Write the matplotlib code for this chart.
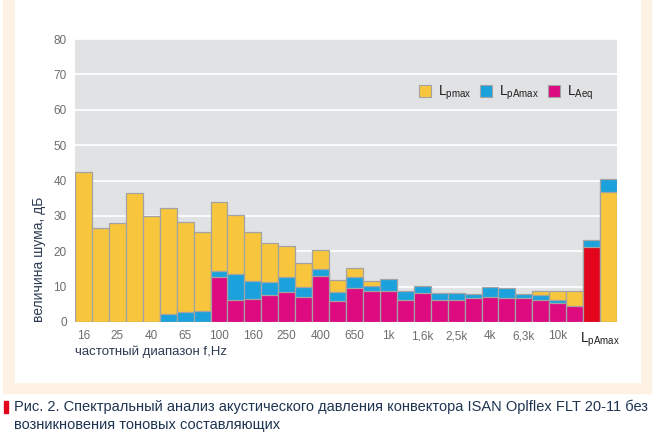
import matplotlib
matplotlib.use('Agg')
import matplotlib.pyplot as plt
from matplotlib.patches import Rectangle
import numpy as np

plt.rcParams['font.family'] = ['Liberation Sans Narrow', 'Liberation Sans', 'DejaVu Sans']
plt.rcParams['mathtext.fontset'] = 'custom'
plt.rcParams['mathtext.rm'] = 'Liberation Sans'

nan = np.nan

# 1/3-octave bands 16 Hz .. 12.5 kHz, then two total bars
bands = ['16', '20', '25', '31.5', '40', '50', '63', '80', '100', '125', '160', '200',
         '250', '315', '400', '500', '630', '800', '1k', '1.25k', '1.6k', '2k', '2.5k',
         '3.15k', '4k', '5k', '6.3k', '8k', '10k', '12.5k', 'LAeq', 'LpAmax']

lpmax = [42.5, 26.6, 27.9, 36.4, 30.0, 32.3, 28.4, 25.4, 33.8, 30.3, 25.4, 22.4,
         21.5, 16.7, 20.3, 12.0, 15.4, 11.7, nan, nan, nan, nan, nan,
         nan, nan, nan, nan, 8.7, 8.7, 8.7, nan, 36.8]
lpamax = [nan, nan, nan, nan, nan, 2.3, 2.7, 3.2, 14.3, 13.7, 11.6, 11.2,
          12.6, 9.9, 15.1, 8.6, 12.6, 10.3, 12.1, 8.9, 10.2, 8.3, 8.3,
          7.9, 10.0, 9.5, 7.9, 7.6, 6.2, nan, 23.1, 40.4]
laeq = [nan, nan, nan, nan, nan, nan, nan, nan, 12.6, 6.2, 6.6, 7.6,
        8.5, 7.2, 13.0, 5.9, 9.7, 8.8, 8.8, 6.3, 8.2, 6.2, 6.2,
        6.7, 7.2, 6.9, 6.7, 6.2, 5.5, 4.5, 21.2, nan]

tick_pos = list(range(0, 30, 2)) + [30.5]
tick_labels = ['16', '25', '40', '65', '100', '160', '250', '400', '650', '1k',
               '1,6k', '2,5k', '4k', '6,3k', '10k', r'L$_\mathregular{pAmax}$']

c_yellow = '#f8c63c'
c_blue = '#1ba2dd'
c_magenta = '#dd0a80'
c_red = '#e2051b'
edge = '#a3a3a3'

fig = plt.figure(figsize=(6.58, 4.34), dpi=100)
W, H = 658, 434

# light peach frame around the chart panel
fig.patches.append(Rectangle((3 / W, 1 - 393 / H), 648 / W, 393 / H,
                             transform=fig.transFigure, color='#fdf2e4', zorder=-2))
fig.patches.append(Rectangle((15 / W, 1 - 382 / H), 625 / W, 382 / H,
                             transform=fig.transFigure, color='white', zorder=-1))

ax = fig.add_axes([75 / W, 1 - 322 / H, 542 / W, 283 / H])
ax.set_zorder(5)
ax.set_facecolor('#e1e2e4')

x = np.arange(len(bands))
for i in x:
    vals = [(lpmax[i], c_yellow), (lpamax[i], c_blue),
            (laeq[i], c_red if bands[i] == 'LAeq' else c_magenta)]
    vals = [v for v in vals if not np.isnan(v[0])]
    vals.sort(key=lambda v: -v[0])
    for k, (v, c) in enumerate(vals):
        ax.bar(i, v, width=1.0, color=c, edgecolor=edge, linewidth=0.9, zorder=2 + k)

ax.set_xlim(-0.5, len(bands) - 0.5)
ax.set_ylim(0, 80)
ax.set_yticks(range(0, 81, 10))
ax.yaxis.grid(True, color='white', linewidth=1.2, zorder=1)
ax.set_axisbelow(True)
for s in ax.spines.values():
    s.set_visible(False)

ax.set_xticks(tick_pos)
ax.set_xticklabels(tick_labels)
ax.tick_params(length=0, labelsize=8.5, colors='#6d6d6d', pad=6)
ax.tick_params(axis='y', pad=6)
lab = ax.get_xticklabels()[-1]
lab.set_color('#222222')
lab.set_fontsize(10)

ax.set_ylabel('величина шума, дБ', fontsize=10, color='#2e3b52', labelpad=5, loc='bottom')
ax.text(0, -0.105, 'частотный диапазон f,Hz', transform=ax.transAxes,
        fontsize=9.5, color='#2e3b52', ha='left', va='center')

handles = [Rectangle((0, 0), 1, 1, facecolor=c, edgecolor=edge, linewidth=0.8)
           for c in (c_yellow, c_blue, c_magenta)]
ax.legend(handles, [r'L$_\mathregular{pmax}$', r'L$_\mathregular{pAmax}$', r'L$_\mathregular{Aeq}$'],
          ncol=3, frameon=False, loc='upper right', bbox_to_anchor=(0.98, 0.885),
          fontsize=10, handlelength=0.9, handleheight=0.9, handletextpad=0.5,
          columnspacing=0.6, labelcolor='#222222')

# caption
fig.patches.append(Rectangle((4 / W, 1 - 413 / H), 4 / W, 12 / H,
                             transform=fig.transFigure, color='#e2051b'))
fig.text(14 / W, 1 - 407 / H,
         'Рис. 2. Спектральный анализ акустического давления конвектора ISAN Oplflex FLT 20-11 без',
         fontsize=10.5, color='#1f3452', va='center', ha='left')
fig.text(14 / W, 1 - 425 / H, 'возникновения тоновых составляющих',
         fontsize=10.5, color='#1f3452', va='center', ha='left')

fig.savefig('out.png', dpi=100)
